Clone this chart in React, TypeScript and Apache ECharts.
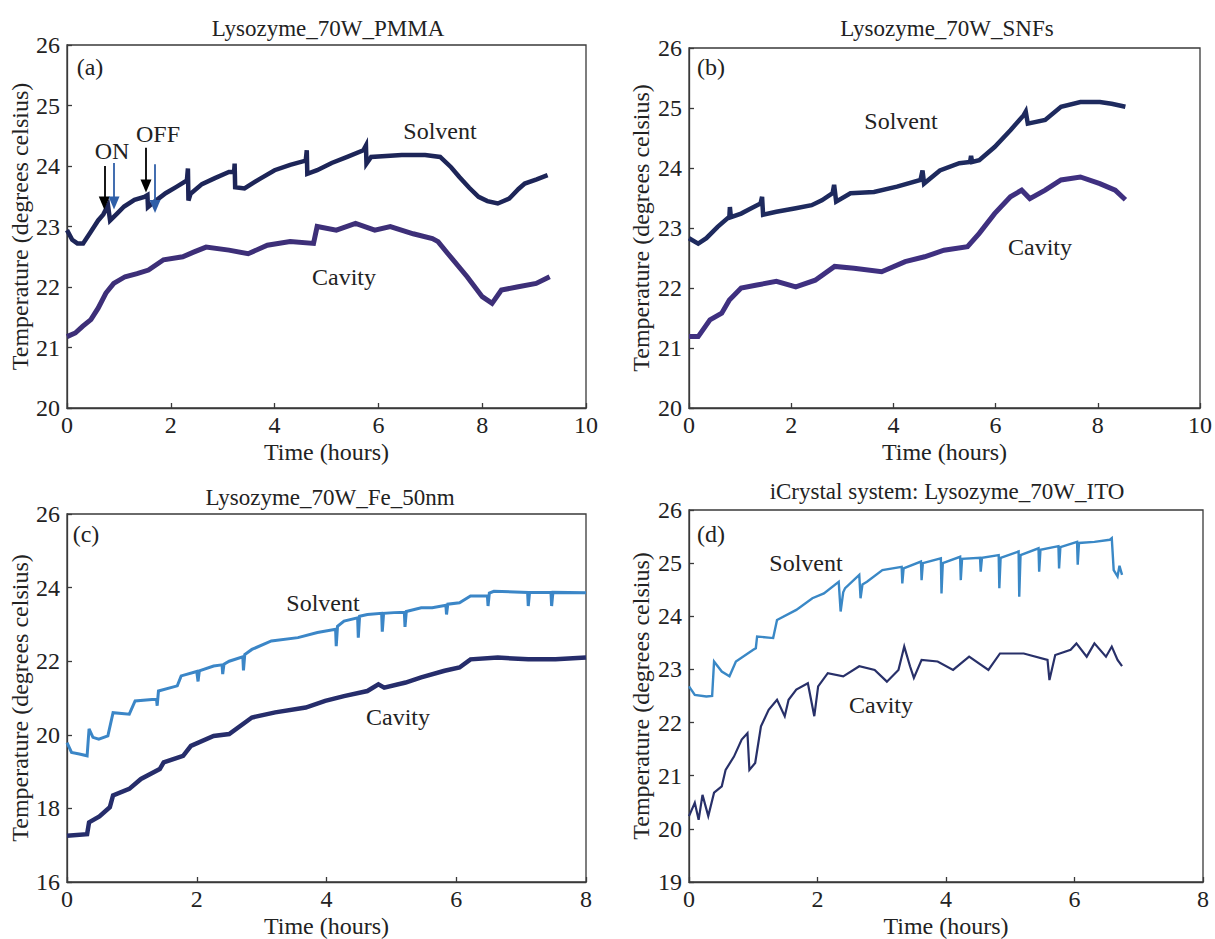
import React, { useEffect, useRef } from "react";
import * as echarts from "echarts";

type P = [number, number];

const solventA: P[] = [[0,22.94],[0.1,22.78],[0.2,22.72],[0.31,22.72],[0.45,22.9],[0.6,23.1],[0.7,23.2],[0.79,23.35],[0.83,23.1],[0.95,23.2],[1.1,23.33],[1.3,23.44],[1.49,23.49],[1.55,23.52],[1.56,23.32],[1.7,23.42],[1.9,23.55],[2.1,23.65],[2.31,23.76],[2.33,23.96],[2.34,23.43],[2.38,23.54],[2.6,23.7],[2.85,23.8],[3.12,23.9],[3.22,23.9],[3.23,24.04],[3.24,23.65],[3.42,23.63],[3.7,23.78],[4.0,23.93],[4.3,24.02],[4.6,24.09],[4.62,24.26],[4.63,23.87],[4.82,23.93],[5.1,24.05],[5.4,24.15],[5.71,24.26],[5.76,24.34],[5.77,24.04],[5.86,24.15],[6.45,24.18],[6.9,24.18],[7.19,24.15],[7.4,23.98],[7.56,23.82],[7.75,23.64],[7.93,23.49],[8.1,23.42],[8.3,23.38],[8.52,23.46],[8.7,23.62],[8.82,23.71],[9.05,23.78],[9.26,23.85]];
const cavityA: P[] = [[0,21.18],[0.16,21.24],[0.3,21.35],[0.46,21.46],[0.6,21.65],[0.75,21.9],[0.9,22.06],[1.12,22.17],[1.35,22.22],[1.57,22.28],[1.86,22.45],[2.23,22.5],[2.45,22.58],[2.68,22.66],[3.12,22.61],[3.49,22.55],[3.86,22.69],[4.3,22.75],[4.75,22.72],[4.82,23.0],[5.19,22.94],[5.56,23.05],[5.93,22.94],[6.23,23.0],[6.67,22.88],[7.04,22.8],[7.15,22.75],[7.34,22.55],[7.71,22.17],[8.0,21.84],[8.19,21.73],[8.37,21.95],[8.67,22.0],[9.04,22.06],[9.3,22.17]];
const solventB: P[] = [[0,22.83],[0.18,22.74],[0.34,22.83],[0.56,23.02],[0.79,23.19],[0.8,23.35],[0.82,23.18],[1.02,23.24],[1.2,23.32],[1.4,23.41],[1.43,23.52],[1.45,23.22],[1.71,23.27],[2.09,23.33],[2.4,23.38],[2.6,23.46],[2.81,23.58],[2.84,23.72],[2.88,23.44],[3.16,23.58],[3.62,23.6],[4.07,23.69],[4.53,23.8],[4.57,23.96],[4.6,23.74],[4.91,23.96],[5.29,24.08],[5.5,24.1],[5.52,24.2],[5.54,24.1],[5.68,24.13],[5.98,24.35],[6.29,24.63],[6.55,24.88],[6.59,24.94],[6.63,24.74],[6.97,24.8],[7.28,25.02],[7.66,25.1],[8.04,25.1],[8.27,25.07],[8.54,25.02]];
const cavityB: P[] = [[0,21.19],[0.18,21.19],[0.41,21.47],[0.64,21.58],[0.79,21.8],[1.02,22.0],[1.33,22.05],[1.71,22.11],[2.09,22.02],[2.47,22.13],[2.85,22.36],[3.23,22.33],[3.77,22.27],[4.23,22.44],[4.61,22.52],[4.99,22.63],[5.45,22.69],[5.68,22.91],[5.98,23.24],[6.29,23.52],[6.51,23.63],[6.67,23.49],[6.97,23.63],[7.28,23.8],[7.66,23.85],[8.04,23.74],[8.34,23.63],[8.54,23.47]];
const solventC: P[] = [[0,19.79],[0.07,19.52],[0.19,19.48],[0.31,19.43],[0.34,20.16],[0.4,19.93],[0.49,19.88],[0.63,19.97],[0.71,20.6],[0.96,20.56],[1.05,20.92],[1.31,20.96],[1.38,20.96],[1.39,20.79],[1.41,21.19],[1.7,21.33],[1.76,21.6],[2.0,21.72],[2.02,21.45],[2.04,21.74],[2.26,21.87],[2.39,21.9],[2.4,21.65],[2.42,21.92],[2.5,22.0],[2.71,22.12],[2.72,21.75],[2.74,22.18],[2.85,22.32],[3.15,22.55],[3.56,22.64],[3.86,22.78],[4.14,22.87],[4.15,22.41],[4.17,22.95],[4.27,23.09],[4.48,23.18],[4.49,22.64],[4.51,23.22],[4.63,23.27],[4.85,23.3],[4.86,22.8],[4.88,23.3],[5.04,23.32],[5.2,23.33],[5.21,22.93],[5.23,23.35],[5.46,23.45],[5.63,23.45],[5.84,23.52],[5.85,23.27],[5.87,23.55],[6.05,23.59],[6.22,23.77],[6.48,23.78],[6.49,23.5],[6.51,23.85],[6.58,23.9],[7.1,23.87],[7.11,23.5],[7.13,23.87],[7.46,23.87],[7.47,23.5],[7.49,23.87],[8,23.86]];
const cavityC: P[] = [[0,17.26],[0.31,17.3],[0.34,17.62],[0.5,17.78],[0.66,18.03],[0.71,18.35],[0.96,18.53],[1.14,18.8],[1.43,19.07],[1.49,19.25],[1.79,19.43],[1.91,19.7],[2.26,19.97],[2.5,20.02],[2.85,20.47],[3.21,20.61],[3.68,20.74],[3.98,20.92],[4.27,21.05],[4.63,21.19],[4.8,21.37],[4.89,21.28],[5.22,21.42],[5.46,21.56],[5.82,21.74],[6.05,21.83],[6.22,22.05],[6.64,22.1],[7.11,22.05],[7.53,22.05],[8,22.1]];
const solventD: P[] = [[0,22.68],[0.09,22.52],[0.27,22.49],[0.36,22.5],[0.39,23.15],[0.51,22.96],[0.63,22.87],[0.73,23.15],[1.0,23.37],[1.04,23.4],[1.06,23.62],[1.31,23.59],[1.37,23.93],[1.67,24.12],[1.92,24.34],[2.1,24.43],[2.33,24.65],[2.36,24.09],[2.4,24.45],[2.43,24.53],[2.65,24.78],[2.67,24.34],[2.7,24.6],[2.77,24.65],[3.01,24.87],[3.31,24.93],[3.32,24.62],[3.34,24.9],[3.61,25.03],[3.62,24.68],[3.64,25.0],[3.92,25.09],[3.93,24.43],[3.95,25.0],[4.22,25.12],[4.23,24.68],[4.25,25.08],[4.53,25.1],[4.54,24.84],[4.56,25.1],[4.82,25.15],[4.83,24.53],[4.85,25.1],[5.13,25.22],[5.14,24.37],[5.16,25.15],[5.44,25.28],[5.45,24.84],[5.47,25.25],[5.75,25.32],[5.76,24.9],[5.78,25.3],[6.04,25.4],[6.05,24.97],[6.07,25.38],[6.31,25.4],[6.55,25.44],[6.58,25.47],[6.61,24.87],[6.67,24.75],[6.7,24.95],[6.74,24.78]];
const cavityD: P[] = [[0,20.24],[0.09,20.49],[0.15,20.17],[0.21,20.64],[0.3,20.24],[0.39,20.68],[0.51,20.8],[0.57,21.11],[0.7,21.36],[0.82,21.68],[0.91,21.8],[0.94,21.11],[1.03,21.24],[1.12,21.93],[1.24,22.24],[1.37,22.43],[1.49,22.12],[1.55,22.43],[1.67,22.62],[1.85,22.74],[1.95,22.12],[2.01,22.68],[2.16,22.93],[2.4,22.87],[2.65,23.06],[2.89,22.99],[3.08,22.77],[3.26,22.99],[3.35,23.43],[3.44,23.06],[3.5,22.84],[3.62,23.18],[3.87,23.15],[4.11,22.99],[4.36,23.24],[4.66,22.99],[4.84,23.3],[5.21,23.3],[5.58,23.18],[5.61,22.8],[5.7,23.27],[5.94,23.37],[6.03,23.49],[6.19,23.24],[6.31,23.49],[6.49,23.24],[6.58,23.43],[6.67,23.18],[6.74,23.06]];

const titles = ["Lysozyme_70W_PMMA", "Lysozyme_70W_SNFs", "Lysozyme_70W_Fe_50nm", "iCrystal system: Lysozyme_70W_ITO"];
const panelTags = ["(a)", "(b)", "(c)", "(d)"];
const xRanges: [number, number, number][] = [[0, 10, 2], [0, 10, 2], [0, 8, 2], [0, 8, 2]];
const yRanges: [number, number, number][] = [[20, 26, 1], [20, 26, 1], [16, 26, 2], [19, 26, 1]];
const xName = "Time (hours)";
const yName = "Temperature (degrees celsius)";

const FONT = '"Liberation Serif", "Times New Roman", serif';
const INK = "#222";

const grids = [
  { left: 67, top: 45, width: 519, height: 363 },
  { left: 689, top: 48, width: 514, height: 360 },
  { left: 67, top: 514, width: 519, height: 369 },
  { left: 689, top: 510, width: 514, height: 372 },
];
const yNameGaps = [31, 36, 31, 36];

export default function App() {
  const ref = useRef<HTMLDivElement>(null);
  useEffect(() => {
    document.body.style.margin = "0";
    if (!ref.current) return;
    const chart = echarts.init(ref.current, undefined, { renderer: "svg" });

    const xAxis = xRanges.map((r, i) => ({
      type: "value",
      gridIndex: i,
      min: r[0],
      max: r[1],
      interval: r[2],
      name: xName,
      nameLocation: "middle",
      nameGap: 32,
      nameTextStyle: { fontFamily: FONT, fontSize: 24, color: INK },
      axisLine: { show: true, onZero: false, lineStyle: { color: "#3a3a3a", width: 1.3 } },
      axisTick: { show: true, inside: true, length: 5, lineStyle: { color: "#3a3a3a", width: 1.3 } },
      axisLabel: { fontFamily: FONT, fontSize: 24, color: INK, margin: 5 },
      splitLine: { show: false },
    }));
    const yAxis = yRanges.map((r, i) => ({
      type: "value",
      gridIndex: i,
      min: r[0],
      max: r[1],
      interval: r[2],
      name: yName,
      nameLocation: "middle",
      nameGap: yNameGaps[i],
      nameTextStyle: { fontFamily: FONT, fontSize: 24, color: INK },
      axisLine: { show: true, onZero: false, lineStyle: { color: "#3a3a3a", width: 1.3 } },
      axisTick: { show: true, inside: true, length: 5, lineStyle: { color: "#3a3a3a", width: 1.3 } },
      axisLabel: { fontFamily: FONT, fontSize: 24, color: INK, margin: 7 },
      splitLine: { show: false },
    }));

    const line = (data: P[], idx: number, color: string, width: number, extra: any = {}) => ({
      type: "line",
      xAxisIndex: idx,
      yAxisIndex: idx,
      data,
      showSymbol: false,
      symbol: "none",
      lineStyle: { color, width, join: "miter" },
      z: 3,
      ...extra,
    });

    const arrow = (t: number, top: number, tip: number, color: string) => [
      { coord: [t, top], lineStyle: { color, width: 1.8, type: "solid" }, itemStyle: { color } },
      { coord: [t, tip], itemStyle: { color } },
    ];

    const series = [
      line(solventA, 0, "#1d2558", 4.5, {
        markLine: {
          silent: true,
          symbol: ["none", "triangle"],
          symbolSize: [11, 13],
          label: { show: false },
          animation: false,
          data: [
            arrow(0.718, 24.0, 23.39, "#000000"),
            arrow(0.906, 24.05, 23.39, "#2f5fa8"),
            arrow(1.522, 24.3, 23.67, "#000000"),
            arrow(1.696, 24.03, 23.33, "#2f5fa8"),
          ],
        },
      }),
      line(cavityA, 0, "#3d2f78", 5),
      line(solventB, 1, "#1e2a5e", 4.5),
      line(cavityB, 1, "#3f3080", 5),
      line(solventC, 2, "#3b86c7", 3),
      line(cavityC, 2, "#262d6b", 4.5),
      line(solventD, 3, "#3a88c6", 2.4),
      line(cavityD, 3, "#283069", 2.2),
    ];

    const txt = (text: string, x: number, y: number, size = 24) => ({
      type: "text",
      x,
      y,
      silent: true,
      style: { text, fontFamily: FONT, fontSize: size, fill: INK, align: "center", verticalAlign: "middle" },
      z: 10,
    });

    const graphic = [
      txt(titles[0], 328, 28, 23),
      txt(titles[1], 947, 28, 23),
      txt(titles[2], 330, 497, 23),
      txt(titles[3], 947, 491, 23),
      txt(panelTags[0], 90, 67),
      txt(panelTags[1], 711, 67),
      txt(panelTags[2], 86, 534),
      txt(panelTags[3], 711, 534),
      txt("Solvent", 440, 131),
      txt("Cavity", 344, 277),
      txt("Solvent", 901, 121),
      txt("Cavity", 1040, 247),
      txt("Solvent", 323, 603),
      txt("Cavity", 398, 717),
      txt("Solvent", 806, 563),
      txt("Cavity", 881, 705),
      txt("ON", 112, 151),
      txt("OFF", 158, 134),
    ];

    chart.setOption({
      animation: false,
      backgroundColor: "#ffffff",
      grid: grids.map((g) => ({ ...g, show: true, borderColor: "#3a3a3a", borderWidth: 1.3, backgroundColor: "transparent" })),
      xAxis,
      yAxis,
      series,
      graphic,
    });
    return () => chart.dispose();
  }, []);
  return <div ref={ref} style={{ width: 1215, height: 939 }} />;
}
